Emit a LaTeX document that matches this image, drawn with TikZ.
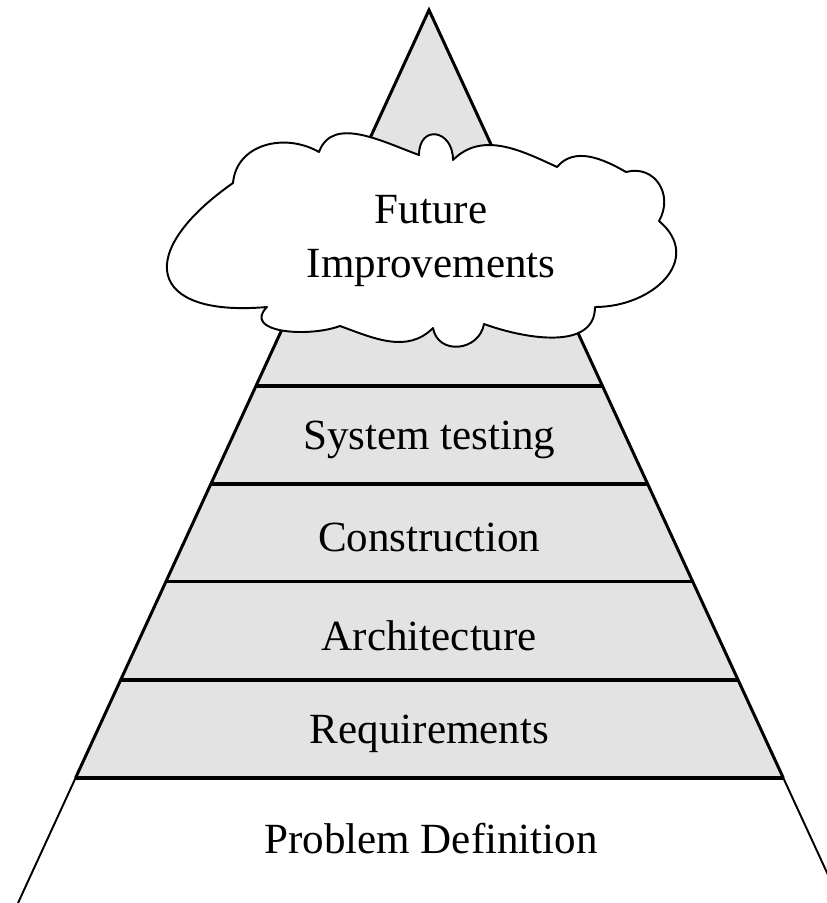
\documentclass[tikz,border=0pt]{standalone}
\usepackage{fontspec}
\setmainfont{Liberation Serif}
\usetikzlibrary{calc}
\definecolor{layergrey}{RGB}{227,227,227}

\begin{document}
\begin{tikzpicture}[x=0.02cm, y=0.02cm,
    layer/.style={font=\fontsize{24.5}{31}\selectfont, inner sep=0pt, yshift=-0.1cm},
    edge/.style={line width=1.7pt, line join=miter},
    bandline/.style={line width=2pt},
    thinedge/.style={line width=1.1pt},
    cloudline/.style={line width=1.1pt, fill=white, line join=round}]
  \useasboundingbox (0,0) rectangle (827,-903);
  \clip (0,0) rectangle (827,-903);

  % corners of the pyramid
  \coordinate (apex) at (429,-10);
  \coordinate (bl) at (18,-903);
  \coordinate (br) at (841,-903);

  % band edges
  \coordinate (l1) at ($(apex)!0.421!(bl)$);
  \coordinate (r1) at ($(apex)!0.421!(br)$);
  \coordinate (l2) at ($(apex)!0.531!(bl)$);
  \coordinate (r2) at ($(apex)!0.531!(br)$);
  \coordinate (l3) at ($(apex)!0.640!(bl)$);
  \coordinate (r3) at ($(apex)!0.640!(br)$);
  \coordinate (l4) at ($(apex)!0.750!(bl)$);
  \coordinate (r4) at ($(apex)!0.750!(br)$);
  \coordinate (l5) at ($(apex)!0.860!(bl)$);
  \coordinate (r5) at ($(apex)!0.860!(br)$);
  \coordinate (m1) at ($(l1)!0.5!(r1)$);
  \coordinate (m2) at ($(l2)!0.5!(r2)$);
  \coordinate (m3) at ($(l3)!0.5!(r3)$);
  \coordinate (m4) at ($(l4)!0.5!(r4)$);
  \coordinate (m5) at ($(l5)!0.5!(r5)$);

  % grey part and outline
  \fill[layergrey] (apex) -- (l5) -- (r5) -- cycle;
  \draw[edge] (l5) -- (apex) -- (r5);
  \draw[thinedge] (l5) -- (bl);
  \draw[thinedge] (r5) -- (br);
  \draw[bandline] (l1) -- (r1);
  \draw[bandline] (l2) -- (r2);
  \draw[bandline] (l3) -- (r3);
  \draw[bandline] (l4) -- (r4);
  \draw[bandline] (l5) -- (r5);

  % the cloud on top
  \draw[cloudline] (267,-307)
    to[out=185, in=215, looseness=2.4] (233,-183)
    to[out=85, in=150, looseness=1.1] (319,-152)
    to[out=70, in=160] (419,-155)
    to[out=90, in=90, looseness=2.3] (453,-160)
    to[out=45, in=155] (557,-167)
    to[out=50, in=150] (626,-172)
    to[out=15, in=60, looseness=1.3] (659,-221)
    to[out=320, in=0, looseness=1.4] (595,-307)
    to[out=270, in=340] (484,-324)
    to[out=260, in=280, looseness=1.4] (433,-328)
    to[out=225, in=-20] (340,-326)
    to[out=200, in=225, looseness=1.2] (267,-307)
    -- cycle;

  % labels
  \node[layer, align=center] (future) at (431,-236) {Future\\Improvements};
  \node[layer] (testing) at ($(m1)!0.5!(m2)$) {System testing};
  \node[layer] (construction) at ($(m2)!0.5!(m3)$) {Construction};
  \node[layer] (architecture) at ($(m3)!0.5!(m4)$) {Architecture};
  \node[layer] (requirements) at ($(m4)!0.5!(m5)$) {Requirements};
  \node[layer] (problem) at (431,-834) {Problem Definition};
\end{tikzpicture}
\end{document}
